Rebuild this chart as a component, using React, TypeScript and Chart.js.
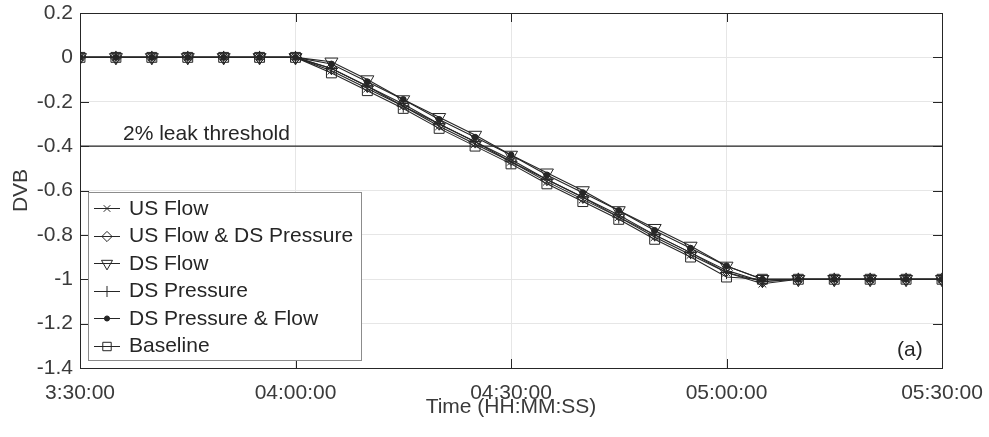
import React, { useEffect, useRef } from 'react';
import { Chart, registerables } from 'chart.js';
import { drawPoint } from 'chart.js/helpers';

Chart.register(...registerables);

const times = [
  '03:30:00', '03:35:00', '03:40:00', '03:45:00', '03:50:00', '03:55:00', '04:00:00',
  '04:05:00', '04:10:00', '04:15:00', '04:20:00', '04:25:00', '04:30:00', '04:35:00',
  '04:40:00', '04:45:00', '04:50:00', '04:55:00', '05:00:00', '05:05:00', '05:10:00',
  '05:15:00', '05:20:00', '05:25:00', '05:30:00',
];

const usFlow = [0, 0, 0, 0, 0, 0, 0, -0.06, -0.14, -0.22, -0.31, -0.39, -0.47, -0.56, -0.64, -0.72, -0.81, -0.89, -0.97, -1.02, -1, -1, -1, -1, -1];
const usFlowDsPressure = [0, 0, 0, 0, 0, 0, 0, -0.05, -0.13, -0.21, -0.3, -0.38, -0.46, -0.55, -0.63, -0.71, -0.8, -0.88, -0.96, -1.01, -1, -1, -1, -1, -1];
const dsFlow = [0, 0, 0, 0, 0, 0, 0, -0.02, -0.1, -0.19, -0.27, -0.35, -0.44, -0.52, -0.6, -0.69, -0.77, -0.85, -0.94, -1.0, -1, -1, -1, -1, -1];
const dsPressure = [0, 0, 0, 0, 0, 0, 0, -0.05, -0.13, -0.22, -0.3, -0.38, -0.47, -0.55, -0.63, -0.72, -0.8, -0.88, -0.97, -1.01, -1, -1, -1, -1, -1];
const dsPressureFlow = [0, 0, 0, 0, 0, 0, 0, -0.03, -0.11, -0.19, -0.28, -0.36, -0.44, -0.53, -0.61, -0.69, -0.78, -0.86, -0.94, -1.0, -1, -1, -1, -1, -1];
const baseline = [0, 0, 0, 0, 0, 0, 0, -0.07, -0.15, -0.23, -0.32, -0.4, -0.48, -0.57, -0.65, -0.73, -0.82, -0.9, -0.99, -1.0, -1, -1, -1, -1, -1];

const seriesNames = ['US Flow', 'US Flow & DS Pressure', 'DS Flow', 'DS Pressure', 'DS Pressure & Flow', 'Baseline'];
const xTickLabels = ['3:30:00', '04:00:00', '04:30:00', '05:00:00', '05:30:00'];
const thresholdValue = -0.4;
const thresholdLabel = '2% leak threshold';
const panelLabel = '(a)';
const xTitle = 'Time (HH:MM:SS)';
const yTitle = 'DVB';

const FONT = '"Liberation Sans", Arial, Helvetica, sans-serif';
const FS = 21;
const INK = '#262626';
const TEXT = '#3a3a3a';

const toMin = (t: string) => {
  const [h, m, s] = t.split(':').map(Number);
  return h * 60 + m + s / 60;
};

const markers: any[] = [
  { pointStyle: 'crossRot', radius: 5.5, rotation: 0, fill: false },
  { pointStyle: 'rectRot', radius: 6, rotation: 0, fill: false },
  { pointStyle: 'triangle', radius: 7.5, rotation: 180, fill: false },
  { pointStyle: 'cross', radius: 6.5, rotation: 0, fill: false },
  { pointStyle: 'circle', radius: 3, rotation: 0, fill: true },
  { pointStyle: 'rect', radius: 7, rotation: 0, fill: false },
];

const framePlugin = {
  id: 'matlabFrame',
  afterDraw(chart: any) {
    const { ctx, chartArea, scales } = chart;
    const { left, right, top, bottom } = chartArea;
    const xs = scales.x;
    const ys = scales.y;
    ctx.save();
    ctx.strokeStyle = INK;
    ctx.lineWidth = 1;
    ctx.strokeRect(Math.round(left) + 0.5, Math.round(top) + 0.5, Math.round(right - left), Math.round(bottom - top));
    const tl = 9;
    ctx.beginPath();
    xs.ticks.forEach((t: any) => {
      const px = Math.round(xs.getPixelForValue(t.value)) + 0.5;
      ctx.moveTo(px, bottom);
      ctx.lineTo(px, bottom - tl);
      ctx.moveTo(px, top);
      ctx.lineTo(px, top + tl);
    });
    ys.ticks.forEach((t: any) => {
      const py = Math.round(ys.getPixelForValue(t.value)) + 0.5;
      ctx.moveTo(left, py);
      ctx.lineTo(left + tl, py);
      ctx.moveTo(right, py);
      ctx.lineTo(right - tl, py);
    });
    ctx.stroke();

    ctx.fillStyle = INK;
    ctx.font = `${FS}px ${FONT}`;
    ctx.textAlign = 'left';
    ctx.textBaseline = 'alphabetic';
    const ty = ys.getPixelForValue(thresholdValue);
    ctx.fillText(thresholdLabel, 123, ty - 6);

    ctx.textBaseline = 'middle';
    ctx.fillText(panelLabel, right - 45, bottom - 18);

    const lx = 88, ly = 192, lw = 273, lh = 168;
    ctx.fillStyle = '#ffffff';
    ctx.fillRect(lx, ly, lw, lh);
    ctx.strokeStyle = '#8c8c8c';
    ctx.lineWidth = 1;
    ctx.strokeRect(lx + 0.5, ly + 0.5, lw, lh);
    seriesNames.forEach((name, i) => {
      const cy = 208 + i * 27.5;
      ctx.strokeStyle = INK;
      ctx.lineWidth = 1;
      ctx.beginPath();
      ctx.moveTo(94, Math.round(cy) + 0.5);
      ctx.lineTo(120, Math.round(cy) + 0.5);
      ctx.stroke();
      const m = markers[i];
      ctx.fillStyle = m.fill ? INK : 'rgba(0,0,0,0)';
      drawPoint(ctx, { pointStyle: m.pointStyle, radius: m.radius * 0.85, rotation: m.rotation, borderWidth: 1 }, 107, Math.round(cy) + 0.5);
      ctx.fillStyle = INK;
      ctx.textAlign = 'left';
      ctx.textBaseline = 'middle';
      ctx.font = `${FS}px ${FONT}`;
      ctx.fillText(name, 129, cy + 1);
    });
    ctx.restore();
  },
};

export default function App() {
  const ref = useRef<HTMLCanvasElement | null>(null);
  useEffect(() => {
    document.body.style.margin = '0';
    const canvas = ref.current!;
    const xVals = times.map(toMin);
    const allSeries = [usFlow, usFlowDsPressure, dsFlow, dsPressure, dsPressureFlow, baseline];
    const datasets: any[] = allSeries.map((arr, i) => ({
      label: seriesNames[i],
      data: arr.map((v, j) => ({ x: xVals[j], y: v })),
      borderColor: INK,
      borderWidth: 1.1,
      backgroundColor: markers[i].fill ? INK : 'rgba(0,0,0,0)',
      pointStyle: markers[i].pointStyle,
      pointRadius: markers[i].radius,
      pointRotation: markers[i].rotation,
      pointBorderWidth: 1,
      pointBorderColor: INK,
      pointBackgroundColor: markers[i].fill ? INK : 'rgba(0,0,0,0)',
      fill: false,
      tension: 0,
    }));
    datasets.push({
      label: 'threshold',
      data: [
        { x: xVals[0], y: thresholdValue },
        { x: xVals[xVals.length - 1], y: thresholdValue },
      ],
      borderColor: INK,
      borderWidth: 1.3,
      pointRadius: 0,
      fill: false,
    });
    const chart = new Chart(canvas, {
      type: 'line',
      data: { datasets },
      options: {
        animation: false,
        responsive: false,
        events: [],
        layout: { padding: { top: 13, right: 47, bottom: 0, left: 0 } },
        plugins: { legend: { display: false }, tooltip: { enabled: false } },
        scales: {
          x: {
            type: 'linear',
            min: toMin(times[0]),
            max: toMin(times[times.length - 1]),
            afterBuildTicks: (scale: any) => {
              const start = toMin(times[0]);
              scale.ticks = xTickLabels.map((_, i) => ({ value: start + i * 30 }));
            },
            ticks: {
              callback: (_v: any, i: number) => xTickLabels[i],
              font: { size: FS, family: FONT },
              color: TEXT,
              padding: 13,
              maxRotation: 0,
              autoSkip: false,
            },
            grid: { color: '#e6e6e6', drawTicks: false },
            border: { display: false },
            title: { display: true, text: xTitle, font: { size: FS, family: FONT }, color: TEXT, padding: { top: 0, bottom: 17 } },
            afterFit: (scale: any) => {
              scale.height = 69;
              scale.paddingLeft = 0;
              scale.paddingRight = 0;
            },
          },
          y: {
            type: 'linear',
            min: -1.4,
            max: 0.2,
            ticks: {
              stepSize: 0.2,
              callback: (v: any) => String(Math.round(Number(v) * 10) / 10),
              font: { size: FS, family: FONT },
              color: TEXT,
              padding: 7,
            },
            grid: { color: '#e6e6e6', drawTicks: false },
            border: { display: false },
            title: { display: true, text: yTitle, font: { size: FS, family: FONT }, color: TEXT, padding: { top: 9, bottom: 0 } },
            afterFit: (scale: any) => {
              scale.width = 80;
              scale.paddingTop = 0;
              scale.paddingBottom = 0;
            },
          },
        },
      },
      plugins: [framePlugin],
    });
    return () => chart.destroy();
  }, []);
  return <canvas ref={ref} width={989} height={437} style={{ display: 'block', width: 989, height: 437 }} />;
}
